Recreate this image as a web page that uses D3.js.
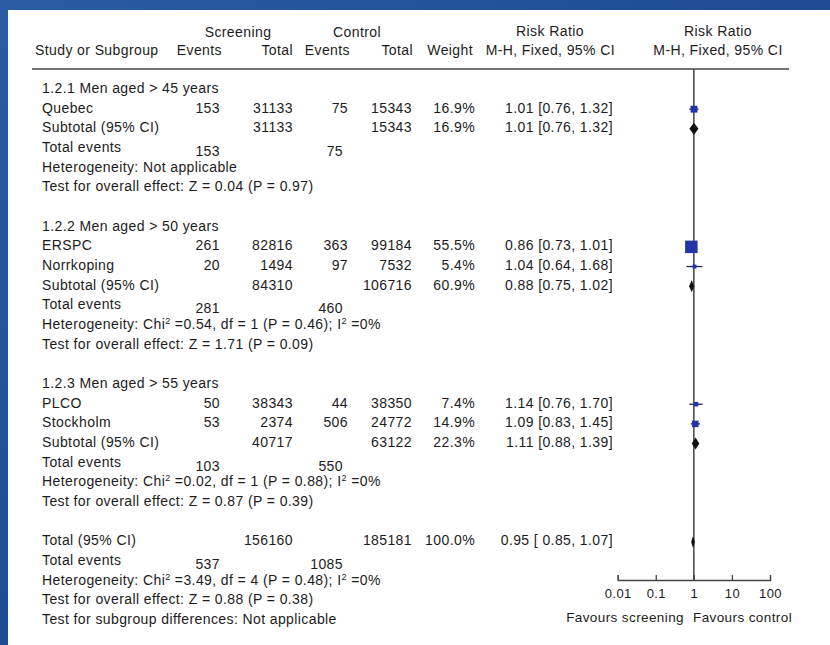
<!DOCTYPE html>
<html>
<head>
<meta charset="utf-8">
<script src="https://cdn.jsdelivr.net/npm/d3@7"></script>
<style>
  body { margin: 0; background: #1f4f95; }
  svg { display: block; }
  text { font-family: "Liberation Sans", Arial, sans-serif; font-size: 14px; fill: #1c1c1c; letter-spacing: 0.4px; }
</style>
</head>
<body>
<div class="diagram-canvas"></div>
<script>
// study level data
let groupLabels = ["1.2.1 Men aged > 45 years", "1.2.2 Men aged > 50 years", "1.2.3 Men aged > 55 years"];
let studyNames = ["Quebec", "ERSPC", "Norrkoping", "PLCO", "Stockholm"];
let studyGroup = [0, 1, 1, 2, 2];
let scrEvents = [153, 261, 20, 50, 53];
let scrTotal = [31133, 82816, 1494, 38343, 2374];
let ctlEvents = [75, 363, 97, 44, 506];
let ctlTotal = [15343, 99184, 7532, 38350, 24772];
let weights = [16.9, 55.5, 5.4, 7.4, 14.9];
let rr = [1.01, 0.86, 1.04, 1.14, 1.09];
let rrLow = [0.76, 0.73, 0.64, 0.76, 0.83];
let rrHigh = [1.32, 1.01, 1.68, 1.7, 1.45];

// subgroup data
let subScrTotal = [31133, 84310, 40717];
let subCtlTotal = [15343, 106716, 63122];
let subScrEvents = [153, 281, 103];
let subCtlEvents = [75, 460, 550];
let subWeight = [16.9, 60.9, 22.3];
let subRR = [1.01, 0.88, 1.11];
let subLow = [0.76, 0.75, 0.88];
let subHigh = [1.32, 1.02, 1.39];
let hetChi = [null, "0.54", "0.02"];
let hetDf = [null, 1, 1];
let hetP = [null, "0.46", "0.88"];
let hetI2 = [null, "0%", "0%"];
let testZ = ["0.04", "1.71", "0.87"];
let testP = ["0.97", "0.09", "0.39"];

// overall
let totScr = 156160, totCtl = 185181, totWeight = 100.0;
let totRR = 0.95, totLow = 0.85, totHigh = 1.07;
let totScrEvents = 537, totCtlEvents = 1085;
let totChi = "3.49", totDf = 4, totP = "0.48", totI2 = "0%";
let totZ = "0.88", totZP = "0.38";

let axisTicks = [0.01, 0.1, 1, 10, 100];
let axisLabels = ["0.01", "0.1", "1", "10", "100"];

let width = 830, height = 645;
let f2 = d3.format(".2f");
let pct = (w) => d3.format(".1f")(w) + "%";

// build row list
let rows = [];
groupLabels.forEach(function (g, gi) {
  rows.push({ type: "group", label: g });
  studyNames.forEach(function (s, i) {
    if (studyGroup[i] !== gi) return;
    rows.push({
      type: "study", label: s, se: scrEvents[i], st: scrTotal[i], ce: ctlEvents[i], ct: ctlTotal[i],
      w: weights[i], rr: rr[i], lo: rrLow[i], hi: rrHigh[i],
      ci: f2(rr[i]) + " [" + f2(rrLow[i]) + ", " + f2(rrHigh[i]) + "]"
    });
  });
  rows.push({
    type: "subtotal", label: "Subtotal (95% CI)", st: subScrTotal[gi], ct: subCtlTotal[gi],
    w: subWeight[gi], rr: subRR[gi], lo: subLow[gi], hi: subHigh[gi],
    ci: f2(subRR[gi]) + " [" + f2(subLow[gi]) + ", " + f2(subHigh[gi]) + "]"
  });
  rows.push({ type: "events", label: "Total events", se: subScrEvents[gi], ce: subCtlEvents[gi] });
  rows.push({ type: "het", chi: hetChi[gi], df: hetDf[gi], p: hetP[gi], i2: hetI2[gi] });
  rows.push({ type: "text", label: "Test for overall effect: Z = " + testZ[gi] + " (P = " + testP[gi] + ")" });
  rows.push({ type: "blank" });
});
rows.push({
  type: "subtotal", label: "Total (95% CI)", st: totScr, ct: totCtl, w: totWeight,
  rr: totRR, lo: totLow, hi: totHigh,
  ci: f2(totRR) + " [ " + f2(totLow) + ", " + f2(totHigh) + "]"
});
rows.push({ type: "events", label: "Total events", se: totScrEvents, ce: totCtlEvents });
rows.push({ type: "het", chi: totChi, df: totDf, p: totP, i2: totI2 });
rows.push({ type: "text", label: "Test for overall effect: Z = " + totZ + " (P = " + totZP + ")" });
rows.push({ type: "text", label: "Test for subgroup differences: Not applicable" });

let svg = d3
  .select(".diagram-canvas")
  .append("svg")
  .attr("width", width)
  .attr("height", height);

// blue background
let defs = svg.append("defs");
let grad = defs
  .append("linearGradient")
  .attr("id", "bg")
  .attr("x1", 0).attr("y1", 0).attr("x2", 1).attr("y2", 1);
grad.append("stop").attr("offset", "0%").attr("stop-color", "#2a5ca3");
grad.append("stop").attr("offset", "50%").attr("stop-color", "#1d4c93");
grad.append("stop").attr("offset", "100%").attr("stop-color", "#163e82");
svg.append("rect").attr("width", width).attr("height", height).attr("fill", "url(#bg)");
svg.append("rect").attr("x", 8).attr("y", 10).attr("width", width - 8).attr("height", height - 10).attr("fill", "#ffffff");

let yScale = d3.scaleLinear().domain([0, rows.length - 1]).range([88, 88 + (rows.length - 1) * 19.67]);
let xScale = d3.scaleLog().domain([0.01, 100]).range([617.7, 770]);
let sizeScale = d3.scaleSqrt().domain([0, 55.5]).range([0, 12.5]);

let col = { label: 42, se: 220, st: 293, ce: 348, ct: 412, w: 475, ci: 613 };

// headers
let head = svg.append("g");
function headText(x, y, txt, anchor) {
  head.append("text").attr("x", x).attr("y", y).attr("dy", "0.35em").attr("text-anchor", anchor).text(txt);
}
headText(238, 32, "Screening", "middle");
headText(357, 32, "Control", "middle");
headText(550, 31, "Risk Ratio", "middle");
headText(718, 31, "Risk Ratio", "middle");
headText(35, 50, "Study or Subgroup", "start");
headText(222, 50, "Events", "end");
headText(293, 50, "Total", "end");
headText(350, 50, "Events", "end");
headText(413, 50, "Total", "end");
headText(473, 50, "Weight", "end");
headText(615, 50, "M-H, Fixed, 95% CI", "end");
headText(718, 50, "M-H, Fixed, 95% CI", "middle");

svg.append("line")
  .attr("x1", 32).attr("x2", 789).attr("y1", 69).attr("y2", 69)
  .attr("stroke", "#444").attr("stroke-width", 1.5);

// line of no effect
svg.append("line")
  .attr("x1", xScale(1)).attr("x2", xScale(1))
  .attr("y1", 69).attr("y2", 580)
  .attr("stroke", "#444").attr("stroke-width", 1.5);

// table text
let body = svg.append("g");
rows.forEach(function (r, i) {
  let y = yScale(i);
  if (r.type === "blank") return;
  if (r.type === "het") {
    let t = body.append("text").attr("x", col.label).attr("y", y).attr("dy", "0.35em");
    if (r.chi === null) {
      t.text("Heterogeneity: Not applicable");
    } else {
      t.append("tspan").text("Heterogeneity: Chi");
      t.append("tspan").attr("font-size", "9px").attr("baseline-shift", "super").text("2");
      t.append("tspan").text(" =" + r.chi + ", df = " + r.df + " (P = " + r.p + "); I");
      t.append("tspan").attr("font-size", "9px").attr("baseline-shift", "super").text("2");
      t.append("tspan").text(" =" + r.i2);
    }
    return;
  }
  body.append("text").attr("x", col.label).attr("y", y).attr("dy", "0.35em").text(r.label);
  if (r.type === "study" || r.type === "subtotal") {
    if (r.se !== undefined) body.append("text").attr("x", col.se).attr("y", y).attr("dy", "0.35em").attr("text-anchor", "end").text(r.se);
    body.append("text").attr("x", col.st).attr("y", y).attr("dy", "0.35em").attr("text-anchor", "end").text(r.st);
    if (r.ce !== undefined) body.append("text").attr("x", col.ce).attr("y", y).attr("dy", "0.35em").attr("text-anchor", "end").text(r.ce);
    body.append("text").attr("x", col.ct).attr("y", y).attr("dy", "0.35em").attr("text-anchor", "end").text(r.ct);
    body.append("text").attr("x", col.w).attr("y", y).attr("dy", "0.35em").attr("text-anchor", "end").text(pct(r.w));
    body.append("text").attr("x", col.ci).attr("y", y).attr("dy", "0.35em").attr("text-anchor", "end").text(r.ci);
  }
  if (r.type === "events") {
    // event counts sit a little below their label, as in the original
    body.append("text").attr("x", col.se).attr("y", y + 4).attr("dy", "0.35em").attr("text-anchor", "end").text(r.se);
    body.append("text").attr("x", col.ce - 5).attr("y", y + 4).attr("dy", "0.35em").attr("text-anchor", "end").text(r.ce);
  }
});

// markers
let marks = svg.append("g");
rows.forEach(function (r, i) {
  let y = yScale(i) + 1.5;
  if (r.type === "study") {
    let s = sizeScale(r.w);
    marks.append("line")
      .attr("x1", xScale(r.lo)).attr("x2", xScale(r.hi))
      .attr("y1", y).attr("y2", y)
      .attr("stroke", "#23264f").attr("stroke-width", 1.3);
    marks.append("rect")
      .attr("x", xScale(r.rr) - s / 2).attr("y", y - s / 2)
      .attr("width", s).attr("height", s)
      .attr("fill", "#2433a6");
  }
  if (r.type === "subtotal") {
    let d = [[xScale(r.lo), y], [xScale(r.rr), y - 6], [xScale(r.hi), y], [xScale(r.rr), y + 6]];
    marks.append("path")
      .attr("d", d3.line()(d) + "Z")
      .attr("fill", "#111");
  }
});

// axis
let axis = d3.axisBottom(xScale)
  .tickValues(axisTicks)
  .tickFormat((d, i) => axisLabels[i])
  .tickSize(-5)
  .tickPadding(9);
let ax = svg.append("g")
  .attr("transform", "translate(0,580)")
  .call(axis);
ax.selectAll("path, line").attr("stroke", "#444").attr("stroke-width", 1.3);
ax.selectAll("text").style("font-size", "13px").attr("fill", "#1c1c1c");

svg.append("text").attr("x", 684).attr("y", 617).attr("dy", "0.35em").attr("text-anchor", "end").style("font-size", "13.5px").text("Favours screening");
svg.append("text").attr("x", 693).attr("y", 617).attr("dy", "0.35em").attr("text-anchor", "start").style("font-size", "13.5px").text("Favours control");
</script>
</body>
</html>
